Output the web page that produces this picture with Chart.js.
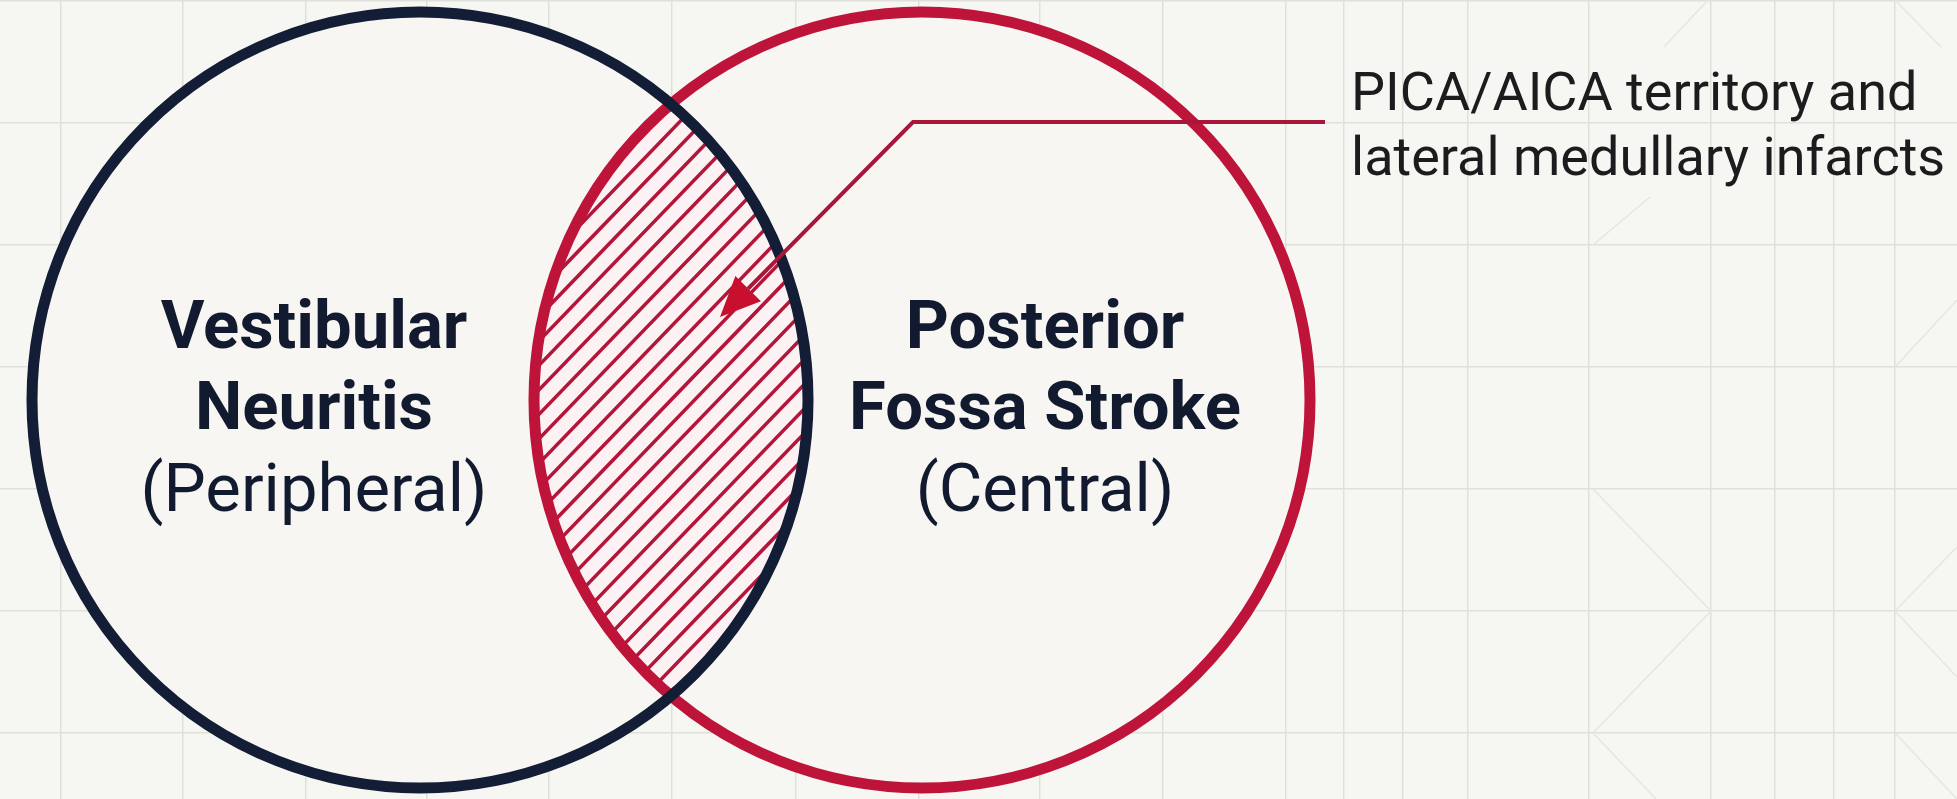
<!DOCTYPE html>
<html>

<head>
    <meta charset="utf-8">
    <title>Vestibular Neuritis vs Posterior Fossa Stroke</title>
    <script src="https://cdn.jsdelivr.net/npm/chart.js@4.4.1/dist/chart.umd.min.js"></script>
    <style>
        html, body { margin: 0; padding: 0; background: #f6f6f2; }
        #wrap { width: 1957px; height: 799px; position: relative; }
    </style>
</head>

<body>
    <div id="wrap"><canvas id="venn"></canvas></div>
    <script>
        // the two sets (values are in the chart's own x / y units)
        const setNames = ['Vestibular Neuritis', 'Posterior Fossa Stroke'];
        const setTitles = [['Vestibular', 'Neuritis'], ['Posterior', 'Fossa Stroke']];
        const setSubtitles = ['(Peripheral)', '(Central)'];
        const setCenterX = [420, 922];
        const setCenterY = [400, 400];
        const setRadius = [388, 388];

        // callout for the overlap
        const overlapNote = ['PICA/AICA territory and', 'lateral medullary infarcts'];
        const notePathX = [1325, 913, 720];
        const notePathY = [122, 122, 317];

        // background paper grid
        const gridX = [61, 183, 306, 427, 549, 672, 796, 919, 1040, 1163, 1286, 1344, 1403, 1468, 1589, 1711, 1775, 1834, 1895];
        const gridY = [1, 123, 245, 367, 489, 611, 733];
        const diagX1 = [1593, 1711, 1895, 1895, 1593, 1895, 1593, 1664, 1895, 1895];
        const diagY1 = [489, 611, 611, 611, 733, 733, 245, 47, 0, 367];
        const diagX2 = [1711, 1593, 1957, 1957, 1656, 1957, 1650, 1708, 1941, 1957];
        const diagY2 = [611, 733, 547, 677, 799, 799, 197, 0, 47, 300];

        const NAVY = '#131d36';
        const RED = '#bf1439';
        const LABEL = {
            x: [314, 1045],
            titleY: [348, 429],
            subY: 511,
            noteX: 1351,
            noteY: [110, 175]
        };

        const vennPlugin = {
            id: 'venn',
            beforeDatasetsDraw(chart) {
                const { ctx, scales: { x, y } } = chart;
                const px = v => x.getPixelForValue(v);
                const py = v => y.getPixelForValue(v);
                const c = setCenterX.map((cx, i) => ({
                    cx: px(cx),
                    cy: py(setCenterY[i]),
                    r: px(cx + setRadius[i]) - px(cx)
                }));

                ctx.save();
                // faint diagonal strokes of the paper
                ctx.strokeStyle = '#e6e6e1';
                ctx.lineWidth = 1.5;
                ctx.beginPath();
                diagX1.forEach((v, i) => {
                    ctx.moveTo(px(v), py(diagY1[i]));
                    ctx.lineTo(px(diagX2[i]), py(diagY2[i]));
                });
                ctx.stroke();

                // circle faces hide the grid
                ctx.fillStyle = '#f7f6f3';
                c.forEach(k => {
                    ctx.beginPath();
                    ctx.arc(k.cx, k.cy, k.r, 0, Math.PI * 2);
                    ctx.fill();
                });

                // hatched overlap
                ctx.save();
                c.forEach(k => {
                    ctx.beginPath();
                    ctx.arc(k.cx, k.cy, k.r, 0, Math.PI * 2);
                    ctx.clip();
                });
                ctx.fillStyle = '#fcf2f3';
                ctx.fillRect(0, 0, chart.width, chart.height);
                const mx = (c[0].cx + c[1].cx) / 2, my = (c[0].cy + c[1].cy) / 2;
                ctx.translate(mx, my);
                ctx.rotate(-46 * Math.PI / 180);
                ctx.strokeStyle = '#b3163a';
                ctx.lineWidth = 3.5;
                ctx.beginPath();
                for (let k = -45; k <= 45; k++) {
                    ctx.moveTo(-700, k * 17);
                    ctx.lineTo(700, k * 17);
                }
                ctx.stroke();
                ctx.restore();

                // outlines
                [[1, RED], [0, NAVY]].forEach(([i, col]) => {
                    ctx.beginPath();
                    ctx.arc(c[i].cx, c[i].cy, c[i].r, 0, Math.PI * 2);
                    ctx.strokeStyle = col;
                    ctx.lineWidth = 11;
                    ctx.stroke();
                });
                ctx.restore();
            },
            afterDatasetsDraw(chart) {
                const { ctx, scales: { x, y } } = chart;
                const px = v => x.getPixelForValue(v);
                const py = v => y.getPixelForValue(v);
                ctx.save();

                // callout line + arrow head
                const n = notePathX.length;
                const tipX = px(notePathX[n - 1]), tipY = py(notePathY[n - 1]);
                const fromX = px(notePathX[n - 2]), fromY = py(notePathY[n - 2]);
                const len = Math.hypot(tipX - fromX, tipY - fromY);
                const ux = (tipX - fromX) / len, uy = (tipY - fromY) / len;
                const headL = 40, headW = 18;
                const bx = tipX - ux * headL, by = tipY - uy * headL;

                ctx.strokeStyle = '#a8163a';
                ctx.lineWidth = 4;
                ctx.lineJoin = 'miter';
                ctx.beginPath();
                ctx.moveTo(px(notePathX[0]), py(notePathY[0]));
                for (let i = 1; i < n - 1; i++) ctx.lineTo(px(notePathX[i]), py(notePathY[i]));
                ctx.lineTo(bx, by);
                ctx.stroke();

                ctx.fillStyle = '#c8102e';
                ctx.beginPath();
                ctx.moveTo(tipX, tipY);
                ctx.lineTo(bx - uy * headW, by + ux * headW);
                ctx.lineTo(bx + uy * headW, by - ux * headW);
                ctx.closePath();
                ctx.fill();

                // set labels
                ctx.fillStyle = '#111a2f';
                ctx.textAlign = 'center';
                ctx.textBaseline = 'alphabetic';
                setTitles.forEach((lines, i) => {
                    ctx.font = 'bold 67px Roboto';
                    lines.forEach((t, j) => ctx.fillText(t, LABEL.x[i], LABEL.titleY[j]));
                    ctx.font = '400 67px Roboto';
                    ctx.fillText(setSubtitles[i], LABEL.x[i], LABEL.subY);
                });

                // overlap note
                ctx.fillStyle = '#1c1c1f';
                ctx.textAlign = 'left';
                ctx.font = '400 54px Roboto';
                overlapNote.forEach((t, j) => ctx.fillText(t, LABEL.noteX, LABEL.noteY[j]));
                ctx.restore();
            }
        };

        const gridOpts = { color: '#e0e0db', lineWidth: 1.5, drawTicks: false };

        new Chart(document.getElementById('venn'), {
            type: 'scatter',
            data: {
                datasets: [{
                    label: 'Sets',
                    data: setNames.map((name, i) => ({ x: setCenterX[i], y: setCenterY[i] })),
                    pointRadius: 0
                }]
            },
            options: {
                responsive: true,
                maintainAspectRatio: false,
                animation: false,
                layout: { padding: 0 },
                plugins: { legend: { display: false }, tooltip: { enabled: false } },
                scales: {
                    x: {
                        type: 'linear', min: 0, max: 1957,
                        ticks: { display: false },
                        border: { display: false },
                        grid: gridOpts,
                        afterBuildTicks: s => { s.ticks = gridX.map(v => ({ value: v })); }
                    },
                    y: {
                        type: 'linear', min: 0, max: 799, reverse: true,
                        ticks: { display: false },
                        border: { display: false },
                        grid: gridOpts,
                        afterBuildTicks: s => { s.ticks = gridY.map(v => ({ value: v })); }
                    }
                }
            },
            plugins: [vennPlugin]
        });
    </script>
</body>

</html>
